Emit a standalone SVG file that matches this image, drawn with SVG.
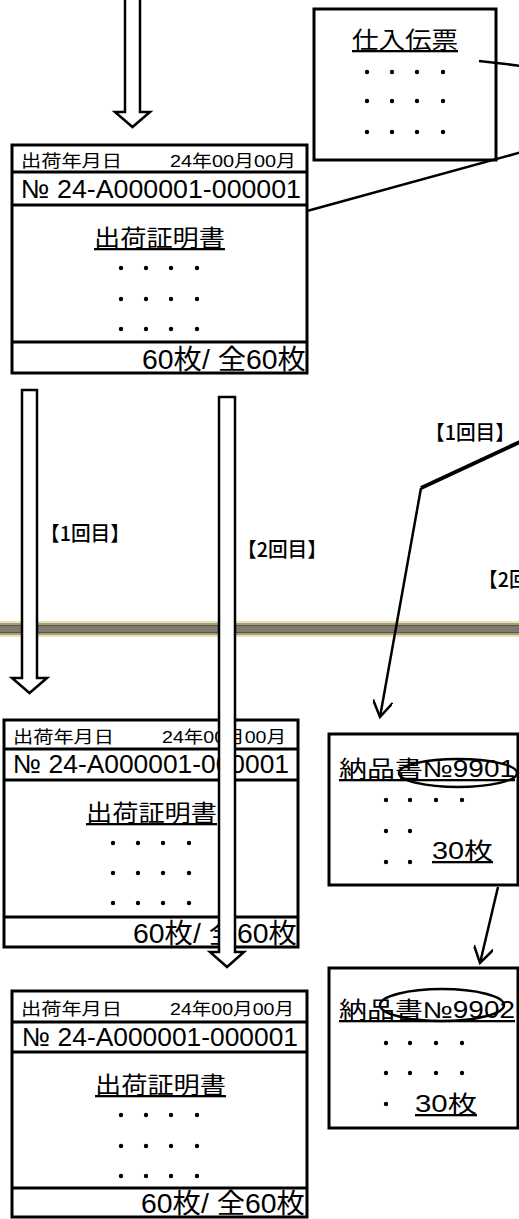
<svg xmlns="http://www.w3.org/2000/svg" width="519" height="1219" viewBox="0 0 519 1219">
<defs>
<style>
.box{fill:#fff;stroke:#000;stroke-width:3}
.div{stroke:#000;stroke-width:3}
.t{font-family:"Liberation Sans","Noto Sans CJK JP",sans-serif;fill:#000}
.hd{font-size:17px}
.no{font-size:26px}
.ti{font-size:23px;text-decoration:underline}
.ft{font-size:27px}
.lb{font-size:20px;font-weight:500;font-family:"Noto Sans CJK JP",sans-serif;fill:#000}
.dot{fill:#000}
.barrow{fill:#fff;stroke:#000;stroke-width:2.5;stroke-linejoin:miter}
.ln{fill:none;stroke:#000;stroke-width:2.5}
.oval{fill:none;stroke:#000;stroke-width:2.5}
</style>
<marker id="openhead" markerUnits="userSpaceOnUse" viewBox="0 0 20 20" markerWidth="20" markerHeight="20" refX="18" refY="10" orient="auto">
<path d="M2,0 L18,10 L2,20" fill="none" stroke="#000" stroke-width="2.5"/>
</marker>
</defs>
<rect width="519" height="1219" fill="#fff"/>

<g id="band">
<rect x="0" y="621" width="519" height="16" fill="#e6e2c0"/>
<rect x="0" y="623" width="519" height="12" fill="#a8a070"/>
<rect x="0" y="625" width="519" height="8" fill="#5a5540"/>
<rect x="0" y="626" width="519" height="6" fill="#807872"/>
</g>

<g id="shiire">
<rect class="box" x="314" y="9" width="182" height="151"/>
<text class="t ti" x="352" y="48" font-size="24" textLength="106" lengthAdjust="spacingAndGlyphs">仕入伝票</text>
<g class="dot">
<circle cx="367" cy="72" r="2.2"/><circle cx="392" cy="72" r="2.2"/><circle cx="417" cy="72" r="2.2"/><circle cx="443" cy="72" r="2.2"/>
<circle cx="367" cy="101" r="2.2"/><circle cx="392" cy="101" r="2.2"/><circle cx="417" cy="101" r="2.2"/><circle cx="443" cy="101" r="2.2"/>
<circle cx="367" cy="132" r="2.2"/><circle cx="392" cy="132" r="2.2"/><circle cx="417" cy="132" r="2.2"/><circle cx="443" cy="132" r="2.2"/>
</g>
</g>

<g id="doc1">
<rect class="box" x="12" y="145" width="295" height="228"/>
<line class="div" x1="12" y1="172" x2="307" y2="172"/>
<line class="div" x1="12" y1="205" x2="307" y2="205"/>
<line class="div" x1="12" y1="342" x2="307" y2="342"/>
<text class="t hd" x="21" y="167" textLength="101" lengthAdjust="spacingAndGlyphs">出荷年月日</text>
<text class="t hd" x="170" y="167" textLength="126" lengthAdjust="spacingAndGlyphs">24年00月00月</text>
<text class="t no" x="21" y="198" textLength="280" lengthAdjust="spacingAndGlyphs">№ 24-A000001-000001</text>
<text class="t ti" x="94" y="246" textLength="131" lengthAdjust="spacingAndGlyphs">出荷証明書</text>
<g class="dot">
<circle cx="121" cy="268" r="2.2"/><circle cx="146" cy="268" r="2.2"/><circle cx="171" cy="268" r="2.2"/><circle cx="197" cy="268" r="2.2"/>
<circle cx="121" cy="299" r="2.2"/><circle cx="146" cy="299" r="2.2"/><circle cx="171" cy="299" r="2.2"/><circle cx="197" cy="299" r="2.2"/>
<circle cx="121" cy="329" r="2.2"/><circle cx="146" cy="329" r="2.2"/><circle cx="171" cy="329" r="2.2"/><circle cx="197" cy="329" r="2.2"/>
</g>
<text class="t ft" x="142" y="369" textLength="164" lengthAdjust="spacingAndGlyphs">60枚/ 全60枚</text>
</g>

<g id="doc2">
<rect class="box" x="4" y="720" width="294" height="227"/>
<line class="div" x1="4" y1="749" x2="298" y2="749"/>
<line class="div" x1="4" y1="780" x2="298" y2="780"/>
<line class="div" x1="4" y1="917" x2="298" y2="917"/>
<text class="t hd" x="13" y="743" textLength="101" lengthAdjust="spacingAndGlyphs">出荷年月日</text>
<text class="t hd" x="162" y="743" textLength="124" lengthAdjust="spacingAndGlyphs">24年00月00月</text>
<text class="t no" x="13" y="773" textLength="276" lengthAdjust="spacingAndGlyphs">№ 24-A000001-000001</text>
<text class="t ti" x="86" y="821" textLength="131" lengthAdjust="spacingAndGlyphs">出荷証明書</text>
<g class="dot">
<circle cx="113" cy="843" r="2.2"/><circle cx="138" cy="843" r="2.2"/><circle cx="163" cy="843" r="2.2"/><circle cx="189" cy="843" r="2.2"/>
<circle cx="113" cy="873" r="2.2"/><circle cx="138" cy="873" r="2.2"/><circle cx="163" cy="873" r="2.2"/><circle cx="189" cy="873" r="2.2"/>
<circle cx="113" cy="903" r="2.2"/><circle cx="138" cy="903" r="2.2"/><circle cx="163" cy="903" r="2.2"/><circle cx="189" cy="903" r="2.2"/>
</g>
<text class="t ft" x="133" y="943" textLength="164" lengthAdjust="spacingAndGlyphs">60枚/ 全60枚</text>
</g>

<g id="doc3">
<rect class="box" x="12" y="991" width="295" height="226"/>
<line class="div" x1="12" y1="1022" x2="307" y2="1022"/>
<line class="div" x1="12" y1="1052" x2="307" y2="1052"/>
<line class="div" x1="12" y1="1188" x2="307" y2="1188"/>
<text class="t hd" x="21" y="1015" textLength="101" lengthAdjust="spacingAndGlyphs">出荷年月日</text>
<text class="t hd" x="170" y="1015" textLength="124" lengthAdjust="spacingAndGlyphs">24年00月00月</text>
<text class="t no" x="22" y="1046" textLength="276" lengthAdjust="spacingAndGlyphs">№ 24-A000001-000001</text>
<text class="t ti" x="95" y="1093" textLength="131" lengthAdjust="spacingAndGlyphs">出荷証明書</text>
<g class="dot">
<circle cx="121" cy="1115" r="2.2"/><circle cx="146" cy="1115" r="2.2"/><circle cx="171" cy="1115" r="2.2"/><circle cx="197" cy="1115" r="2.2"/>
<circle cx="121" cy="1146" r="2.2"/><circle cx="146" cy="1146" r="2.2"/><circle cx="171" cy="1146" r="2.2"/><circle cx="197" cy="1146" r="2.2"/>
<circle cx="121" cy="1176" r="2.2"/><circle cx="146" cy="1176" r="2.2"/><circle cx="171" cy="1176" r="2.2"/><circle cx="197" cy="1176" r="2.2"/>
</g>
<text class="t ft" x="141" y="1213" textLength="164" lengthAdjust="spacingAndGlyphs">60枚/ 全60枚</text>
</g>

<g id="nohin1">
<rect class="box" x="329" y="734" width="189" height="151"/>
<text class="t ti" x="339" y="777" font-size="24" textLength="176" lengthAdjust="spacingAndGlyphs">納品書№9901</text>
<ellipse class="oval" cx="458" cy="773" rx="59" ry="14"/>
<g class="dot">
<circle cx="386" cy="800" r="2.2"/><circle cx="410" cy="800" r="2.2"/><circle cx="436" cy="800" r="2.2"/><circle cx="462" cy="800" r="2.2"/>
<circle cx="386" cy="831" r="2.2"/><circle cx="410" cy="831" r="2.2"/>
<circle cx="386" cy="862" r="2.2"/><circle cx="410" cy="862" r="2.2"/>
</g>
<text class="t ti" x="432" y="859" font-size="25" textLength="61" lengthAdjust="spacingAndGlyphs">30枚</text>
</g>

<g id="nohin2">
<rect class="box" x="329" y="968" width="189" height="160"/>
<text class="t ti" x="339" y="1018" font-size="24" textLength="176" lengthAdjust="spacingAndGlyphs">納品書№9902</text>
<ellipse class="oval" cx="442" cy="1005" rx="62" ry="16"/>
<g class="dot">
<circle cx="386" cy="1043" r="2.2"/><circle cx="410" cy="1043" r="2.2"/><circle cx="436" cy="1043" r="2.2"/><circle cx="462" cy="1043" r="2.2"/>
<circle cx="386" cy="1073" r="2.2"/><circle cx="410" cy="1073" r="2.2"/><circle cx="436" cy="1073" r="2.2"/><circle cx="462" cy="1073" r="2.2"/>
<circle cx="386" cy="1104" r="2.2"/>
</g>
<text class="t ti" x="415" y="1112" font-size="25" textLength="62" lengthAdjust="spacingAndGlyphs">30枚</text>
</g>

<g id="connectors">
<path class="barrow" d="M125,-4 L125,112 L115,112 L132.5,127 L150,112 L140,112 L140,-4 Z"/>
<path class="barrow" d="M22,390 L22,678 L12,678 L29.5,693 L47,678 L37,678 L37,390 Z"/>
<path class="barrow" d="M219,397 L219,952 L210,952 L227,967 L244,952 L235,952 L235,397 Z"/>
<line class="ln" x1="479" y1="61" x2="522" y2="66"/>
<line class="ln" x1="307" y1="211" x2="522" y2="152"/>
<path d="M522,441 L421,488" fill="none" stroke="#000" stroke-width="4"/>
<path class="ln" d="M421,488 L380,717" marker-end="url(#openhead)"/>
<path class="ln" d="M498,887 L480,963" marker-end="url(#openhead)"/>
<text class="lb" x="40" y="541" textLength="90" lengthAdjust="spacingAndGlyphs">【1回目】</text>
<text class="lb" x="237" y="557" textLength="90" lengthAdjust="spacingAndGlyphs">【2回目】</text>
<text class="lb" x="425" y="440" textLength="90" lengthAdjust="spacingAndGlyphs">【1回目】</text>
<text class="lb" x="478" y="587" textLength="90" lengthAdjust="spacingAndGlyphs">【2回目】</text>
</g>
</svg>
